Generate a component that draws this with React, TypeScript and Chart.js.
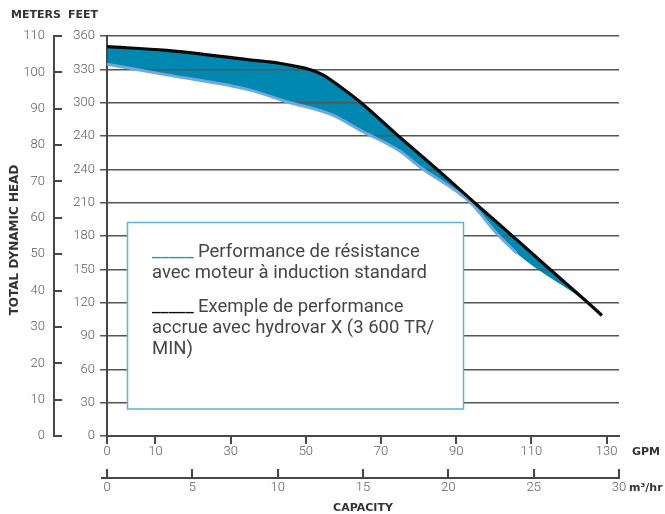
import React, { useEffect, useRef } from 'react';
import { Chart, registerables } from 'chart.js';

Chart.register(...registerables);

// ---- Data (capacity in m³/hr, head in feet) ----
const hydrovarFlow = [0, 3.5, 8.35, 10.1, 11.3, 12.05, 12.65, 13.65, 14.8, 17.0, 19.3, 21.65, 24.2, 26.1, 28.1, 29.0];
const hydrovarHead = [350.5, 347, 338.5, 335.5, 332, 329, 325, 314.5, 301, 271, 240.5, 208.5, 174, 148, 121, 108.5];

const standardFlow = [0, 3.5, 8.35, 10.5, 13.2, 14.8, 17.2, 18.3, 21.3, 22.8, 24.0];
const standardHead = [334.5, 325, 311.5, 301, 289, 275.5, 256, 242.5, 210, 183, 164.5];

// lower edge of the shaded band past the end of the standard curve
const bandTailFlow = [28.3, 29.0];
const bandTailHead = [118, 108.5];

// ---- Axes ----
const feetTickLabels = ['0', '30', '60', '90', '120', '150', '180', '210', '240', '240', '300', '330', '360'];
const gpmTickValues = [0, 10, 30, 50, 70, 90, 110, 130];
const gpmTickLabels = ['0', '10', '30', '50', '70', '90', '110', '130'];
const gpmAxisRange = [-2.9, 133.3];
const m3AxisRange = [0, 30];
const feetAxisRange = [0, 360];
const metersAxisRange = [0, 110];

// ---- Texts ----
const standardLegendLines = ['Performance de résistance', 'avec moteur à induction standard'];
const hydrovarLegendLines = ['Exemple de performance', 'accrue avec hydrovar X (3 600 TR/', 'MIN)'];
const legendMark = '_____';

// ---- Styles ----
const TEAL = '#0088b1';
const LIGHT_BLUE = '#70a9de';
const BLACK = '#0a0a0a';
const AXIS = '#474747';
const GRID = '#555555';
const TICK_TEXT = '#5a5a5a';
const TITLE_TEXT = '#333333';
const LEGEND_BORDER = '#5cb3d3';
const LEGEND_TEAL = '#1d98c6';
const LEGEND_TEXT = '#454545';
const tickFont = { family: 'Roboto', size: 13, weight: '300' as any };
const titleFont = 'bold 11px "DejaVu Sans"';
const vTitleFont = 'bold 12px "DejaVu Sans"';

const toPoints = (xs: number[], ys: number[]) => xs.map((x, i) => ({ x, y: ys[i] }));

const decorPlugin = {
  id: 'decor',
  afterDraw(chart: any) {
    const ctx = chart.ctx as CanvasRenderingContext2D;
    const ca = chart.chartArea;
    const sx = chart.scales.x;
    const sg = chart.scales.xg;
    ctx.save();
    // small extension of the m³/hr axis line to the left
    ctx.strokeStyle = AXIS;
    ctx.lineWidth = 2;
    ctx.beginPath();
    ctx.moveTo(ca.left - 6, sx.top);
    ctx.lineTo(ca.left, sx.top);
    ctx.stroke();

    // titles
    ctx.fillStyle = TITLE_TEXT;
    ctx.font = titleFont;
    ctx.textBaseline = 'middle';
    ctx.textAlign = 'left';
    ctx.fillText('METERS', 11, 15);
    ctx.fillText('FEET', 68, 15);
    ctx.fillText('GPM', ca.right + 13, sg.top + 16);
    ctx.fillText('m³/hr', ca.right + 10, sx.top + 10);
    ctx.textAlign = 'center';
    ctx.fillText('CAPACITY', (ca.left + ca.right) / 2, 508);
    ctx.save();
    ctx.font = vTitleFont;
    ctx.translate(14.5, (ca.top + ca.bottom) / 2 + 4);
    ctx.rotate(-Math.PI / 2);
    ctx.fillText('TOTAL DYNAMIC HEAD', 0, 0);
    ctx.restore();

    // legend box
    const bx = 127.5, by = 222.5, bw = 336, bh = 186.5;
    ctx.fillStyle = '#ffffff';
    ctx.fillRect(bx, by, bw, bh);
    ctx.strokeStyle = LEGEND_BORDER;
    ctx.lineWidth = 1.5;
    ctx.strokeRect(bx, by, bw, bh);

    ctx.font = '18.5px Roboto';
    ctx.textAlign = 'left';
    ctx.textBaseline = 'middle';
    const lh = 21.3;
    const x0 = 152;
    const xText = 198;
    let y = 252;
    ctx.fillStyle = LEGEND_TEAL;
    ctx.fillText(legendMark, x0, y);
    standardLegendLines.forEach((t, i) => {
      ctx.fillStyle = LEGEND_TEXT;
      ctx.fillText(t, i === 0 ? xText : x0, y + i * lh);
    });
    y = 307;
    ctx.fillStyle = BLACK;
    ctx.fillText(legendMark, x0, y);
    hydrovarLegendLines.forEach((t, i) => {
      ctx.fillStyle = LEGEND_TEXT;
      ctx.fillText(t, i === 0 ? xText : x0, y + i * lh);
    });
    ctx.restore();
  },
};

export default function App() {
  const ref = useRef<HTMLCanvasElement>(null);

  useEffect(() => {
    const canvas = ref.current;
    if (!canvas) return;
    const chart = new Chart(canvas, {
      type: 'line',
      data: {
        datasets: [
          {
            label: 'Hydrovar X',
            data: toPoints(hydrovarFlow, hydrovarHead),
            borderColor: BLACK,
            borderWidth: 3.2,
            pointRadius: 0,
            backgroundColor: TEAL,
            fill: { target: 1 },
            cubicInterpolationMode: 'monotone',
            order: 0,
          },
          {
            label: 'band lower edge',
            data: [...toPoints(standardFlow, standardHead), ...toPoints(bandTailFlow, bandTailHead)],
            borderColor: 'rgba(0,0,0,0)',
            borderWidth: 0,
            pointRadius: 0,
            fill: false,
            cubicInterpolationMode: 'monotone',
            order: 3,
          },
          {
            label: 'Standard',
            data: toPoints(standardFlow, standardHead),
            borderColor: LIGHT_BLUE,
            borderWidth: 3,
            pointRadius: 0,
            fill: false,
            cubicInterpolationMode: 'monotone',
            order: 1,
          },
        ] as any,
      },
      options: {
        responsive: false,
        animation: false,
        events: [],
        layout: { padding: { top: 36, right: 46, bottom: 0, left: 0 } },
        plugins: {
          legend: { display: false },
          tooltip: { enabled: false },
          filler: { drawTime: 'beforeDraw' } as any,
        },
        scales: {
          x: {
            type: 'linear',
            position: 'bottom',
            weight: 1,
            min: m3AxisRange[0],
            max: m3AxisRange[1],
            ticks: { stepSize: 5, font: tickFont, color: TICK_TEXT, padding: 11, maxRotation: 0, autoSkip: false },
            grid: { drawOnChartArea: false, tickLength: -9, color: AXIS, lineWidth: 2 },
            border: { display: true, color: AXIS, width: 2 },
            afterFit: (s: any) => { s.height = 36; },
          },
          xg: {
            type: 'linear',
            position: 'bottom',
            weight: 0,
            min: gpmAxisRange[0],
            max: gpmAxisRange[1],
            afterBuildTicks: (s: any) => {
              // the "0" label sits at the start of the axis
              s.ticks = gpmTickValues.map((v, i) => ({ value: i === 0 ? s.min : v }));
            },
            ticks: {
              callback: (_v: any, i: number) => gpmTickLabels[i],
              font: tickFont,
              color: TICK_TEXT,
              padding: 0,
              maxRotation: 0,
              autoSkip: false,
            },
            grid: { drawOnChartArea: false, tickLength: 8, color: AXIS, lineWidth: 2 },
            border: { display: true, color: AXIS, width: 2 },
            afterFit: (s: any) => { s.height = 42; },
          },
          y: {
            type: 'linear',
            position: 'left',
            weight: 0,
            min: feetAxisRange[0],
            max: feetAxisRange[1],
            ticks: {
              stepSize: 30,
              callback: (_v: any, i: number) => feetTickLabels[i],
              font: tickFont,
              color: TICK_TEXT,
              padding: 5,
              autoSkip: false,
            },
            grid: { color: GRID, lineWidth: 1.5, tickLength: 7 },
            border: { display: true, color: AXIS, width: 2 },
            afterFit: (s: any) => { s.width = 53; },
          },
          ym: {
            type: 'linear',
            position: 'left',
            weight: 1,
            min: metersAxisRange[0],
            max: metersAxisRange[1],
            ticks: { stepSize: 10, font: tickFont, color: TICK_TEXT, padding: 17, autoSkip: false },
            grid: { drawOnChartArea: false, tickLength: -8, color: AXIS, lineWidth: 2 },
            border: { display: true, color: AXIS, width: 2 },
            afterFit: (s: any) => { s.width = 54; },
          },
        } as any,
      },
      plugins: [decorPlugin],
    });
    return () => chart.destroy();
  }, []);

  return (
    <div style={{ position: 'absolute', left: 0, top: 0, width: 665, height: 514, background: '#ffffff' }}>
      <canvas ref={ref} width={665} height={514} style={{ display: 'block' }} />
    </div>
  );
}
